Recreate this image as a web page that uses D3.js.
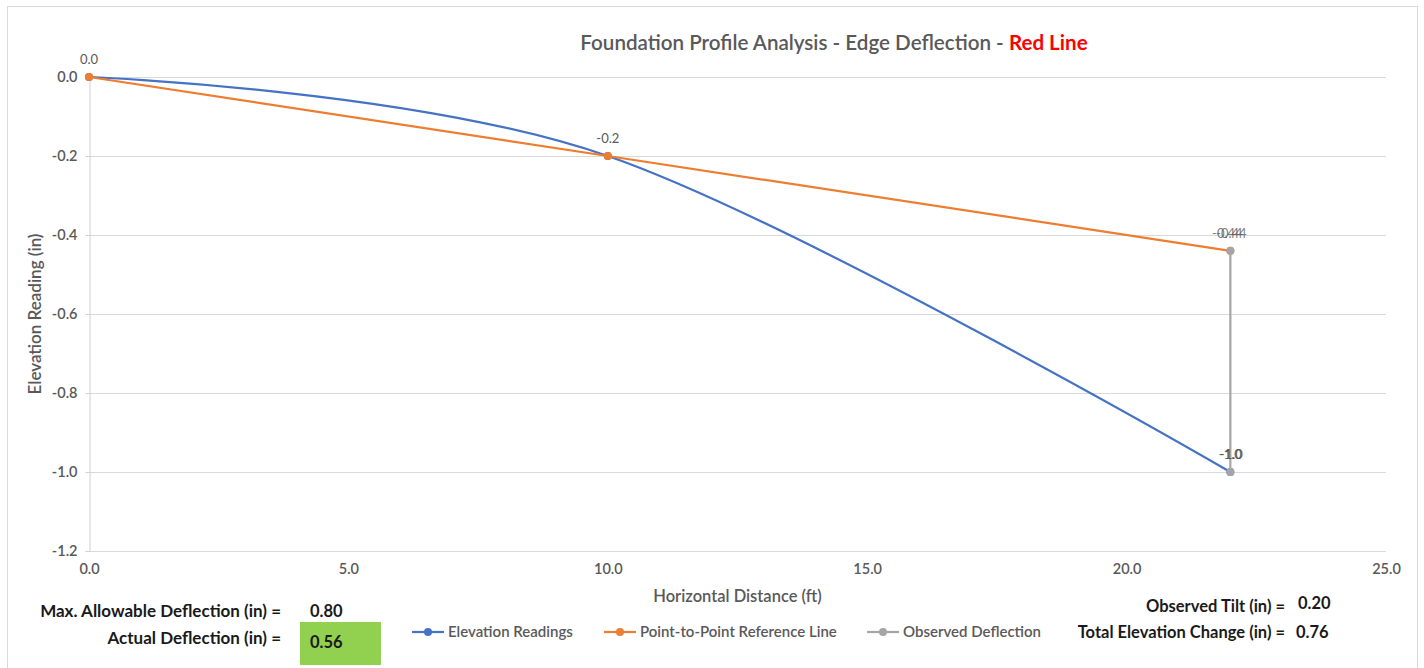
<!DOCTYPE html>
<html>
<head>
<meta charset="utf-8">
<script src="https://cdn.jsdelivr.net/npm/d3@7"></script>
<style>
  html,body{margin:0;padding:0;background:#fff;}
  svg{display:block;font-family:"Lato","Open Sans",sans-serif;}
</style>
</head>
<body>
<svg id="chart" width="1424" height="668"></svg>
<script>
/* data */
const distance      = [0, 10, 22];           // ft
const elevation     = [0.0, -0.2, -1.0];     // Elevation Readings (in)
const refLine       = [0.0, -0.2, -0.44];    // Point-to-Point Reference Line
const observedX     = [22, 22];
const observedY     = [-0.44, -1.0];         // Observed Deflection
const xTicks        = [0, 5, 10, 15, 20, 25];
const yTicks        = [0, -0.2, -0.4, -0.6, -0.8, -1.0, -1.2];
const seriesNames   = ["Elevation Readings", "Point-to-Point Reference Line", "Observed Deflection"];
const seriesColors  = ["#4472c4", "#ed7d31", "#a5a5a5"];
const maxAllowable  = "0.80";
const actualDefl    = "0.56";
const observedTilt  = "0.20";
const totalChange   = "0.76";

const svg = d3.select("#chart");
const m = {left: 89, right: 1386, top: 77, bottom: 551};

/* hyphen minus, like the spreadsheet */
const loc = d3.formatLocale({decimal: ".", thousands: ",", grouping: [3], currency: ["", ""], minus: "-"});
const f1 = loc.format(".1f"), f2 = loc.format(".2f");

/* chart frame */
svg.append("rect").attr("x", 7.5).attr("y", 6.5).attr("width", 1410).attr("height", 680)
   .attr("fill", "#fff").attr("stroke", "#d9d9d9");

const x = d3.scaleLinear().domain([0, 25]).range([m.left, m.right]);
const y = d3.scaleLinear().domain([-1.2, 0]).range([m.bottom, m.top]);

/* gridlines */
svg.append("g").selectAll("line").data(yTicks).enter().append("line")
   .attr("x1", m.left).attr("x2", m.right)
   .attr("y1", d => Math.round(y(d)) + 0.5).attr("y2", d => Math.round(y(d)) + 0.5)
   .attr("stroke", "#d9d9d9").attr("stroke-width", 1);

/* axes */
const yAxis = svg.append("g").attr("transform", `translate(${m.left + 0.5},0)`)
   .call(d3.axisLeft(y).tickValues(yTicks).tickFormat(d => f1(d).replace("-0.0", "0.0")).tickSize(4).tickPadding(8));
const xAxis = svg.append("g").attr("transform", `translate(0,${m.bottom + 0.5})`)
   .call(d3.axisBottom(x).tickValues(xTicks).tickFormat(f1).tickSize(0).tickPadding(12));
[yAxis, xAxis].forEach(a => {
  a.select(".domain").attr("stroke", "#d0d0d0");
  a.selectAll(".tick line").attr("stroke", "#d0d0d0");
  a.selectAll("text").attr("fill", "#595959").attr("font-size", 14.5).attr("font-weight", 600)
   .attr("font-family", "Lato, sans-serif");
});
xAxis.select(".domain").remove();

/* axis titles */
svg.append("text").attr("x", x(12.5)).attr("y", 602).attr("text-anchor", "middle")
   .attr("fill", "#595959").attr("font-size", 16.5).attr("font-weight", 600)
   .text("Horizontal Distance (ft)");
svg.append("text").attr("transform", `translate(41,${(m.top + m.bottom) / 2}) rotate(-90)`)
   .attr("text-anchor", "middle").attr("fill", "#595959").attr("font-size", 17).attr("font-weight", 600)
   .text("Elevation Reading (in)");

/* title */
const title = svg.append("text").attr("x", 834).attr("y", 50).attr("text-anchor", "middle")
   .attr("font-size", 20.6).attr("font-weight", 600).attr("fill", "#595959");
title.append("tspan").text("Foundation Profile Analysis - Edge Deflection - ");
title.append("tspan").attr("fill", "#ff0000").attr("font-weight", 700).text("Red Line");

/* series */
const blue = distance.map((d, i) => [d, elevation[i]]);
const orange = distance.map((d, i) => [d, refLine[i]]);
const gray = observedX.map((d, i) => [d, observedY[i]]);

const smooth = d3.line().x(d => x(d[0])).y(d => y(d[1])).curve(d3.curveCardinal.tension(0));
const straight = d3.line().x(d => x(d[0])).y(d => y(d[1]));

svg.append("path").attr("d", smooth(blue)).attr("fill", "none")
   .attr("stroke", seriesColors[0]).attr("stroke-width", 2.2);
svg.append("g").selectAll("circle").data(blue).enter().append("circle")
   .attr("cx", d => x(d[0])).attr("cy", d => y(d[1])).attr("r", 4).attr("fill", seriesColors[0]);

svg.append("path").attr("d", straight(orange)).attr("fill", "none")
   .attr("stroke", seriesColors[1]).attr("stroke-width", 2.2);
svg.append("g").selectAll("circle").data(orange).enter().append("circle")
   .attr("cx", d => x(d[0])).attr("cy", d => y(d[1])).attr("r", 4).attr("fill", seriesColors[1]);

svg.append("path").attr("d", straight(gray)).attr("fill", "none")
   .attr("stroke", seriesColors[2]).attr("stroke-width", 2.2);
svg.append("g").selectAll("circle").data(gray).enter().append("circle")
   .attr("cx", d => x(d[0])).attr("cy", d => y(d[1])).attr("r", 4).attr("fill", seriesColors[2]);

/* data labels (the two -0.44 labels overlap in the original too) */
const lbl = svg.append("g").attr("fill", "#595959").attr("font-size", 13).attr("text-anchor", "middle");
const labels = [
  {p: blue[0], t: f1(blue[0][1]), dx: 0},
  {p: blue[1], t: f1(blue[1][1]), dx: 0},
  {p: orange[2], t: f2(orange[2][1]), dx: -3},
  {p: gray[0], t: f2(gray[0][1]), dx: 1},
  {p: blue[2], t: f1(blue[2][1]), dx: 0},
  {p: gray[1], t: f1(gray[1][1]), dx: 1}
];
lbl.selectAll("text").data(labels).enter().append("text")
   .attr("x", d => x(d.p[0]) + d.dx).attr("y", d => y(d.p[1]) - 13)
   .attr("fill-opacity", (d, i) => i === 2 || i === 3 ? 0.8 : 1)
   .text(d => d.t.replace("-0.0", "0.0"));

/* legend */
const legX = [412, 604, 867];
const leg = svg.append("g").attr("transform", "translate(0,632)");
seriesNames.forEach((n, i) => {
  leg.append("line").attr("x1", legX[i]).attr("x2", legX[i] + 32)
     .attr("stroke", seriesColors[i]).attr("stroke-width", 2.2);
  leg.append("circle").attr("cx", legX[i] + 16).attr("r", 4).attr("fill", seriesColors[i]);
  leg.append("text").attr("x", legX[i] + 36).attr("y", 5).attr("fill", "#595959")
     .attr("font-size", 15).attr("font-weight", 600).text(n);
});

/* summary values */
const sum = svg.append("g").attr("fill", "#1a1a1a").attr("font-weight", 700).attr("font-size", 16.5);
sum.append("text").attr("x", 281).attr("y", 617).attr("text-anchor", "end").attr("font-size", 17).text("Max. Allowable Deflection (in) =");
sum.append("text").attr("x", 310).attr("y", 617).text(maxAllowable);
sum.append("rect").attr("x", 300).attr("y", 622).attr("width", 81).attr("height", 43).attr("fill", "#92d050");
sum.append("text").attr("x", 281).attr("y", 644).attr("text-anchor", "end").attr("font-size", 17).text("Actual Deflection (in) =");
sum.append("text").attr("x", 310).attr("y", 648).text(actualDefl);

sum.append("text").attr("x", 1285).attr("y", 612).attr("text-anchor", "end").text("Observed Tilt (in) =");
sum.append("text").attr("x", 1298).attr("y", 609).text(observedTilt);
sum.append("text").attr("x", 1285).attr("y", 638).attr("text-anchor", "end").text("Total Elevation Change (in) =");
sum.append("text").attr("x", 1296).attr("y", 638).text(totalChange);
</script>
</body>
</html>
